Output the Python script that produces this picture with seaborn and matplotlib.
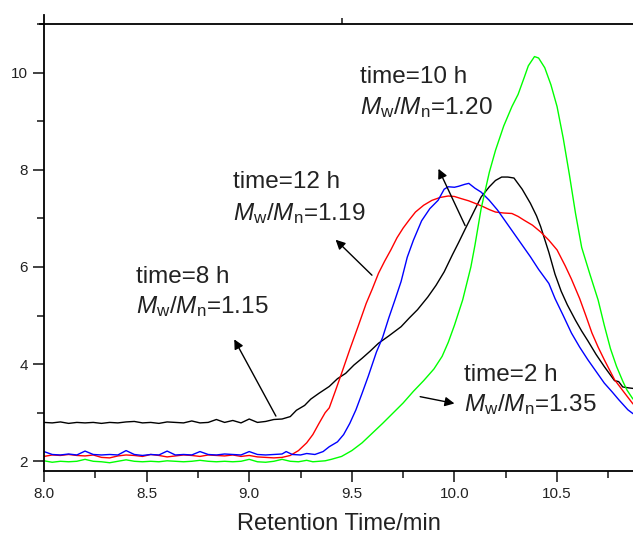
import numpy as np
import pandas as pd
import matplotlib
matplotlib.use("Agg")
import matplotlib.pyplot as plt
from matplotlib.ticker import MultipleLocator, FormatStrFormatter
import seaborn as sns

# ---------------- data ----------------
base_x = [8.00, 8.04, 8.08, 8.12, 8.16, 8.20, 8.24, 8.28, 8.32, 8.36,
          8.40, 8.44, 8.48, 8.52, 8.56, 8.60, 8.64, 8.68, 8.72, 8.76,
          8.80, 8.84, 8.88, 8.92, 8.96, 9.00, 9.04, 9.08, 9.12, 9.16]

# time = 8 h (black)
black_x = base_x + [9.20, 9.23, 9.27, 9.30, 9.34, 9.39, 9.43, 9.47, 9.51, 9.55,
                    9.59, 9.63, 9.68, 9.74, 9.78, 9.82, 9.87, 9.91, 9.95, 9.99,
                    10.02, 10.05, 10.09, 10.13, 10.17, 10.20, 10.23, 10.26, 10.29, 10.33,
                    10.37, 10.40, 10.42, 10.46, 10.49, 10.52, 10.55, 10.59, 10.62, 10.65,
                    10.69, 10.73, 10.78, 10.80, 10.82, 10.85, 10.87]
black_y = [2.80, 2.79, 2.81, 2.78, 2.80, 2.79, 2.80, 2.78, 2.80, 2.79,
           2.81, 2.82, 2.79, 2.80, 2.78, 2.81, 2.80, 2.79, 2.83, 2.79,
           2.80, 2.86, 2.80, 2.84, 2.79, 2.87, 2.80, 2.82, 2.86, 2.87,
           2.92, 3.05, 3.15, 3.28, 3.40, 3.54, 3.70, 3.81, 3.98, 4.12,
           4.27, 4.43, 4.58, 4.77, 4.95, 5.12, 5.38, 5.62, 5.90, 6.25,
           6.50, 6.76, 7.10, 7.44, 7.65, 7.78, 7.85, 7.85, 7.83, 7.60,
           7.31, 7.05, 6.83, 6.30, 5.85, 5.50, 5.22, 4.90, 4.68, 4.48,
           4.20, 3.95, 3.66, 3.64, 3.53, 3.51, 3.50]

# time = 12 h (red)
red_x = base_x + [9.20, 9.24, 9.28, 9.31, 9.34, 9.37, 9.39, 9.42, 9.45, 9.49,
                  9.53, 9.57, 9.60, 9.63, 9.66, 9.69, 9.72, 9.75, 9.78, 9.81,
                  9.85, 9.89, 9.93, 9.97, 10.00, 10.03, 10.07, 10.10, 10.14, 10.17,
                  10.20, 10.24, 10.28, 10.31, 10.34, 10.38, 10.42, 10.46, 10.50, 10.54,
                  10.57, 10.61, 10.64, 10.67, 10.70, 10.73, 10.78, 10.83, 10.87]
red_y = [2.10, 2.13, 2.12, 2.14, 2.12, 2.11, 2.13, 2.08, 2.07, 2.11,
         2.13, 2.12, 2.10, 2.14, 2.12, 2.09, 2.11, 2.13, 2.12, 2.10,
         2.13, 2.12, 2.11, 2.13, 2.10, 2.12, 2.09, 2.08, 2.07, 2.08,
         2.12, 2.22, 2.38, 2.55, 2.78, 3.00, 3.10, 3.45, 3.81, 4.30,
         4.77, 5.25, 5.55, 5.87, 6.12, 6.35, 6.60, 6.80, 6.97, 7.13,
         7.27, 7.37, 7.43, 7.46, 7.45, 7.41, 7.36, 7.31, 7.24, 7.18,
         7.13, 7.11, 7.10, 7.04, 6.96, 6.86, 6.72, 6.55, 6.35, 6.02,
         5.75, 5.35, 5.00, 4.64, 4.35, 4.09, 3.68, 3.40, 3.18]

# time = 10 h (blue)
blue_x = base_x + [9.18, 9.21, 9.25, 9.28, 9.32, 9.36, 9.39, 9.43, 9.46, 9.49,
                   9.52, 9.55, 9.58, 9.62, 9.65, 9.68, 9.71, 9.74, 9.77, 9.80,
                   9.84, 9.88, 9.92, 9.95, 9.97, 10.00, 10.02, 10.05, 10.07, 10.10,
                   10.13, 10.17, 10.21, 10.25, 10.29, 10.33, 10.37, 10.41, 10.46, 10.49,
                   10.53, 10.57, 10.61, 10.65, 10.69, 10.73, 10.77, 10.80, 10.845, 10.87]
blue_y = [2.20, 2.14, 2.13, 2.15, 2.13, 2.21, 2.14, 2.13, 2.14, 2.13,
          2.22, 2.14, 2.12, 2.14, 2.13, 2.21, 2.13, 2.14, 2.13, 2.20,
          2.14, 2.13, 2.15, 2.14, 2.13, 2.20, 2.14, 2.13, 2.14, 2.15,
          2.20, 2.14, 2.13, 2.16, 2.14, 2.20, 2.30, 2.40, 2.55, 2.78,
          3.06, 3.40, 3.75, 4.25, 4.55, 4.95, 5.32, 5.70, 6.20, 6.55,
          6.95, 7.20, 7.37, 7.60, 7.65, 7.64, 7.66, 7.70, 7.72, 7.62,
          7.54, 7.37, 7.17, 6.93, 6.69, 6.45, 6.21, 5.95, 5.66, 5.35,
          5.00, 4.64, 4.35, 4.09, 3.85, 3.61, 3.42, 3.27, 3.06, 2.98]

# time = 2 h (green)
green_x = base_x + [9.20, 9.24, 9.28, 9.31, 9.34, 9.37, 9.40, 9.45, 9.50, 9.55,
                    9.60, 9.65, 9.70, 9.75, 9.80, 9.85, 9.90, 9.94, 9.97, 10.00,
                    10.04, 10.08, 10.10, 10.13, 10.17, 10.20, 10.24, 10.28, 10.31, 10.34,
                    10.36, 10.39, 10.41, 10.44, 10.47, 10.50, 10.53, 10.56, 10.59, 10.62,
                    10.66, 10.70, 10.73, 10.76, 10.79, 10.82, 10.84, 10.87]
green_y = [2.01, 1.98, 2.00, 1.99, 2.00, 2.04, 2.00, 1.99, 1.97, 2.00,
           2.03, 2.00, 1.99, 2.00, 1.99, 2.01, 2.00, 1.99, 2.00, 2.02,
           2.00, 1.99, 2.00, 1.99, 2.00, 2.04, 1.99, 1.98, 2.00, 2.04,
           2.00, 1.99, 2.02, 1.99, 2.00, 2.01, 2.04, 2.10, 2.22, 2.38,
           2.58, 2.78, 2.99, 3.20, 3.44, 3.66, 3.90, 4.16, 4.45, 4.80,
           5.32, 6.00, 6.45, 7.20, 7.95, 8.40, 8.90, 9.30, 9.55, 9.90,
           10.14, 10.33, 10.30, 10.10, 9.75, 9.30, 8.65, 7.90, 7.10, 6.40,
           5.85, 5.32, 4.80, 4.32, 3.95, 3.65, 3.47, 3.28]

labels_time = ["time=10 h", "time=12 h", "time=8 h", "time=2 h"]
labels_pdi = ["1.20", "1.19", "1.15", "1.35"]

# ---------------- style ----------------
sns.set_style("ticks")
plt.rcParams['font.family'] = ['Liberation Sans', 'DejaVu Sans']
plt.rcParams['mathtext.fontset'] = 'custom'
plt.rcParams['mathtext.rm'] = 'Liberation Sans'
plt.rcParams['mathtext.it'] = 'Liberation Sans:italic'

fig = plt.figure(figsize=(6.33, 5.37), dpi=100)
ax = fig.add_axes([0.0695, 0.1229, 0.9305, 0.8324])

series = [(black_x, black_y, "#000000"), (red_x, red_y, "#ff0000"),
          (blue_x, blue_y, "#0000ff"), (green_x, green_y, "#00ff00")]
for xs, ys, col in series:
    df = pd.DataFrame({"x": xs, "y": ys})
    sns.lineplot(data=df, x="x", y="y", ax=ax, color=col, lw=1.0,
                 estimator=None, sort=False)

ax.set_xlim(8.0, 10.87)
ax.set_ylim(1.8, 11.0)
ax.xaxis.set_major_locator(MultipleLocator(0.5))
ax.xaxis.set_minor_locator(MultipleLocator(0.25))
ax.xaxis.set_major_formatter(FormatStrFormatter('%.1f'))
ax.yaxis.set_minor_locator(MultipleLocator(1))
ax.set_yticks([2, 4, 6, 8, 10])
ax.tick_params(which='major', direction='out', length=8, width=1.2, labelsize=11,
               colors='#222222')
ax.tick_params(which='minor', direction='out', length=5, width=1.2)
ax.tick_params(axis='x', which='both', top=False)
for s in ['left', 'bottom', 'top']:
    ax.spines[s].set_linewidth(1.3)
    ax.spines[s].set_color('black')
ax.spines['right'].set_visible(False)
# slight overhang of the frame at the top-left corner
ax.spines['left'].set_bounds(1.8, 11.185)
ax.spines['top'].set_bounds(7.98, 10.87)
# single short tick on the top axis
sec = ax.secondary_xaxis('top')
sec.set_xticks([9.45])
sec.set_xticklabels([])
sec.tick_params(direction='out', length=4, width=1.2)
sec.spines['top'].set_visible(False)

ax.set_xlabel("Retention Time/min", fontsize=17, color='#222222', labelpad=9)
ax.set_ylabel("")

# annotations
fs = 17.5
txt = [(9.54, 9.90, 9.29, labels_time[0], labels_pdi[0]),
       (8.92, 7.75, 7.10, labels_time[1], labels_pdi[1]),
       (8.45, 5.80, 5.18, labels_time[2], labels_pdi[2]),
       (10.045, 3.78, 3.16, labels_time[3], labels_pdi[3])]
for x0, y1, y2, t, p in txt:
    ax.text(x0, y1, t, fontsize=fs, ha='left', va='center', color='#222222')
    ax.text(x0, y2, r'$M_\mathrm{w}/M_\mathrm{n}$=' + p, fontsize=fs,
            ha='left', va='center', color='#222222')

arrows = [((10.052, 6.85), (9.922, 8.02)),
          ((9.598, 5.83), (9.421, 6.56)),
          ((9.130, 2.93), (8.927, 4.51)),
          ((9.833, 3.33), (10.00, 3.19))]
for tail, head in arrows:
    ax.annotate("", xy=head, xytext=tail,
                arrowprops=dict(arrowstyle='-|>', color='black', lw=1.0,
                                mutation_scale=14, shrinkA=0, shrinkB=0))

fig.savefig("out.png", dpi=100)
